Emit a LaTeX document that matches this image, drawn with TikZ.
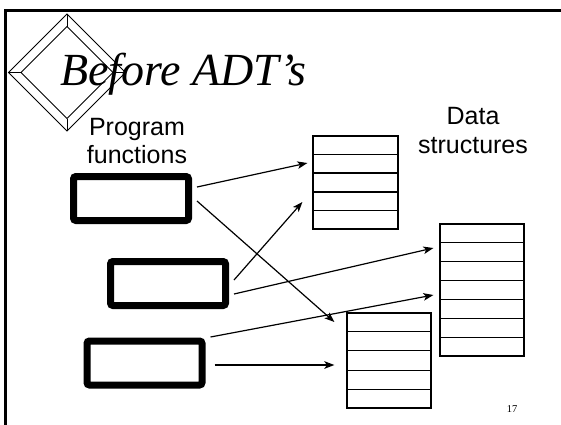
\documentclass[tikz,border=0pt]{standalone}
\usepackage{fontspec}
\setmainfont{Liberation Serif}
\setsansfont{Liberation Sans}
\usetikzlibrary{calc,arrows.meta}
\tikzset{
  fbox/.style={draw, line width=7pt, rounded corners=2.5pt, minimum width=115pt, minimum height=44pt, inner sep=0pt},
  dstruct/.style={draw, line width=1.2pt, minimum width=85pt, inner sep=0pt},
  lbl/.style={font=\sffamily\fontsize{25}{28}\selectfont, anchor=base, inner sep=0pt},
  conn/.style={line width=1.2pt, -{Stealth[length=10pt,width=7.5pt,inset=2.5pt]}},
  dia/.style={line width=0.9pt}
}
\begin{document}
\begin{tikzpicture}[x=1pt,y=-1pt]
\useasboundingbox (0,0) rectangle (561,424);
% frame
\begin{scope}
\clip (0,0) rectangle (561,424);
\draw[line width=3pt] (5,440) -- (5,10) -- (580,10);
\end{scope}
% diamond ornament
\coordinate (dc) at (67,72.5);
\draw[dia] ($(dc)+(0,-58.5)$) -- ($(dc)+(58.5,0)$) -- ($(dc)+(0,58.5)$) -- ($(dc)+(-58.5,0)$) -- cycle;
\draw[dia] ($(dc)+(0,-46)$) -- ($(dc)+(46,0)$) -- ($(dc)+(0,46)$) -- ($(dc)+(-46,0)$) -- cycle;
\draw[dia] ($(dc)+(0,-58.5)$) -- ($(dc)+(0,-46)$);
\draw[dia] ($(dc)+(0,58.5)$) -- ($(dc)+(0,46)$);
\draw[dia] ($(dc)+(-58.5,0)$) -- ($(dc)+(-46,0)$);
\draw[dia] ($(dc)+(58.5,0)$) -- ($(dc)+(46,0)$);
% title
\node[anchor=base west, inner sep=0pt, font=\itshape\fontsize{46}{54}\selectfont] (title) at (60,85) {Before ADT’s};
% labels
\node[lbl] (prog) at (137,135) {Program};
\node[lbl] (func) at (137,163) {functions};
\node[lbl] (data) at (473,124) {Data};
\node[lbl] (struc) at (473,153) {structures};
% function boxes
\node[fbox] (f1) at (131,198.5) {};
\node[fbox] (f2) at (168,283.5) {};
\node[fbox] (f3) at (144.5,363) {};
% data structures
\node[dstruct, minimum height=93pt] (ds1) at (355.5,182.5) {};
\node[dstruct, minimum height=132pt, minimum width=84pt] (ds2) at (482,290) {};
\node[dstruct, minimum height=95pt, minimum width=84pt] (ds3) at (389,360.5) {};
\foreach \i in {1,...,4} {
  \draw[line width=1.2pt] ($(ds1.north west)!\i/5!(ds1.south west)$) -- ($(ds1.north east)!\i/5!(ds1.south east)$);
  \draw[line width=1.2pt] ($(ds3.north west)!\i/5!(ds3.south west)$) -- ($(ds3.north east)!\i/5!(ds3.south east)$);
}
\foreach \i in {1,...,6} {
  \draw[line width=1.2pt] ($(ds2.north west)!\i/7!(ds2.south west)$) -- ($(ds2.north east)!\i/7!(ds2.south east)$);
}
% connectors
\draw[conn] ($(f1.east)+(5,-11.5)$) -- ($(ds1.west)+(-5,-19.5)$);
\draw[conn] ($(f1.east)+(5,2.5)$) -- ($(ds3.west)+(-12,-38.5)$);
\draw[conn] ($(f2.east)+(5,-3.5)$) -- ($(ds1.west)+(-10,19.5)$);
\draw[conn] ($(f2.east)+(5,10.5)$) -- ($(ds2.west)+(-6,-42)$);
\draw[conn] ($(f3.east)+(5,-26)$) -- ($(ds2.west)+(-6,5)$);
\draw[conn, line width=2pt] ($(f3.east)+(9,2)$) -- ($(ds3.west)+(-12,4.5)$);
% page number
\node[anchor=base, inner sep=0pt, font=\fontsize{10.5}{12}\selectfont] (pnum) at (512,412) {17};
\end{tikzpicture}
\end{document}
